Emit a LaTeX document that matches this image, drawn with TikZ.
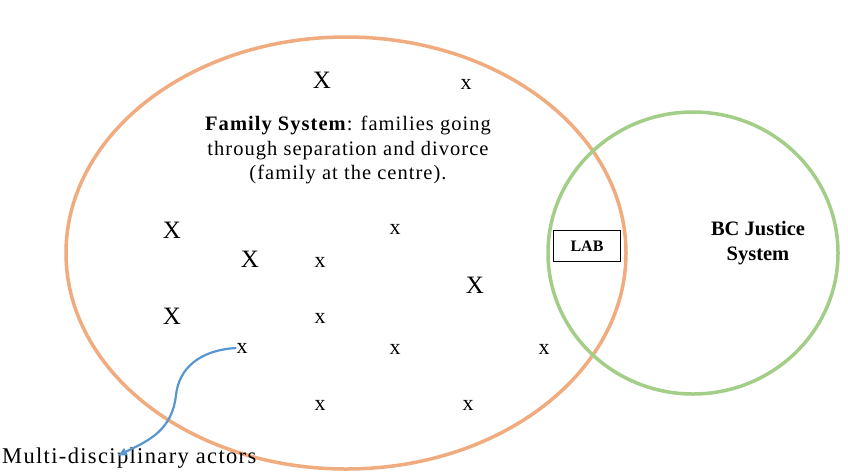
\documentclass[tikz,border=0pt]{standalone}
\usepackage{fontspec}
\setmainfont{Liberation Serif}
\usetikzlibrary{arrows.meta}
\definecolor{famorange}{RGB}{240,172,126}
\definecolor{jusgreen}{RGB}{163,206,136}
\definecolor{arrblue}{RGB}{88,150,210}
\begin{document}
\begin{tikzpicture}[x=1pt,y=-1pt,
  bigx/.style={font=\fontsize{25}{25}\selectfont, inner sep=0pt},
  smallx/.style={font=\fontsize{22}{22}\selectfont, inner sep=0pt},
  txt/.style={font=\fontsize{20.5}{24.5}\selectfont\addfontfeature{LetterSpace=5}, align=center, inner sep=0pt}]
\useasboundingbox (0,0) rectangle (848,475);
\fill[white] (0,0) rectangle (848,475);
\draw[famorange, line width=3.5pt] (346,253) ellipse [x radius=280, y radius=216];
\draw[jusgreen, line width=3.5pt] (693,253) ellipse [x radius=145, y radius=141];
\node[draw=black, line width=1pt, minimum width=67pt, minimum height=31pt, font=\bfseries\fontsize{16}{16}\selectfont] (lab) at (587,246) {LAB};
\node[txt, font=\bfseries\fontsize{20.5}{24.5}\selectfont] (bc) at (758,243) {BC Justice\\System};
\node[txt] (fam) at (348,150) {\textbf{Family System}: families going\\through separation and divorce\\(family at the centre).};
\node[bigx] (X1) at (322,80) {X};
\node[smallx] (x1) at (466,84) {x};
\node[bigx] (X2) at (172,230) {X};
\node[smallx] (x2) at (395,229) {x};
\node[bigx] (X3) at (250,259) {X};
\node[smallx] (x3) at (320,262) {x};
\node[bigx] (X4) at (475,285) {X};
\node[bigx] (X5) at (172,316) {X};
\node[smallx] (x4) at (320,318) {x};
\node[smallx] (x5) at (242,348) {x};
\node[smallx] (x6) at (395,349) {x};
\node[smallx] (x7) at (544,349) {x};
\node[smallx] (x8) at (320,405) {x};
\node[smallx] (x9) at (468,405) {x};
\node[font=\fontsize{22.5}{22.5}\selectfont\addfontfeature{LetterSpace=6}, inner sep=0pt, anchor=west] (actors) at (2,458) {Multi-disciplinary actors};
\coordinate (tip) at (117,456);
\draw[arrblue, line width=2.2pt, -{Latex[length=10pt,width=9pt]}] (x5.west) .. controls (200,350) and (179,368) .. (176,395) .. controls (172,430) and (150,440) .. (tip);
\end{tikzpicture}
\end{document}
